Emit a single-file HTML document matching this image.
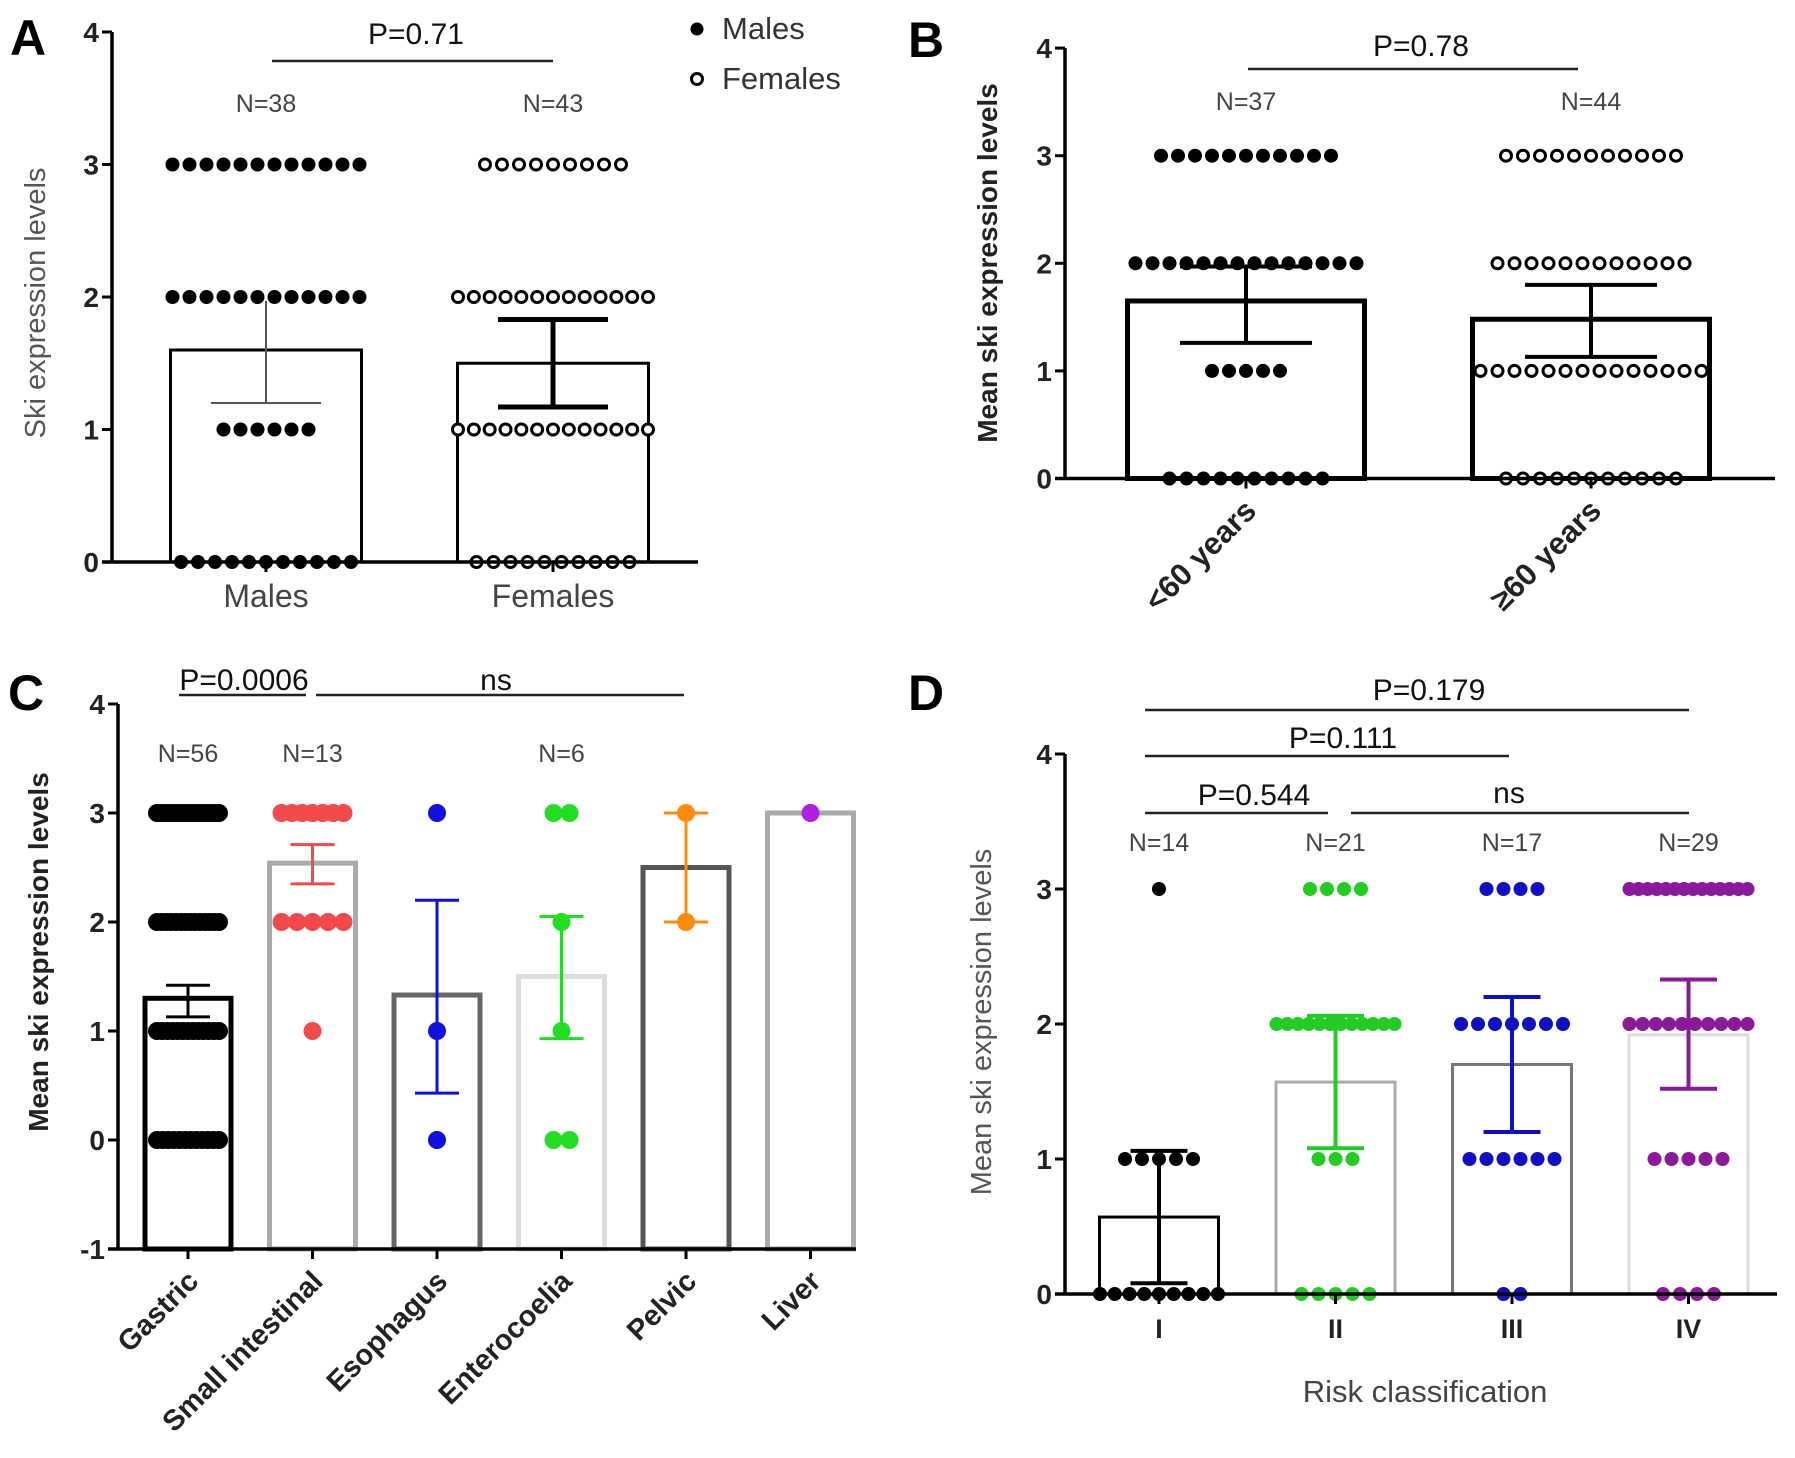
<!DOCTYPE html>
<html><head><meta charset="utf-8"><style>
html,body{margin:0;padding:0;background:#fff}
svg text{font-family:"Liberation Sans",sans-serif}
</style></head><body>
<svg id="fig" width="1795" height="1453" viewBox="0 0 1795 1453" xmlns="http://www.w3.org/2000/svg">
<rect width="1795" height="1453" fill="#fff"/>
</svg>
<script>
// Panel A data
const catsA=["Males","Females"];
const meansA=[1.6,1.5];
const errHiA=[1.97,1.83];
const errLoA=[1.2,1.17];
const dotsA=[[11,6,12,12],[10,13,13,9]];
const nA=["N=38","N=43"];
// Panel B data
const catsB=["<60 years","≥60 years"];
const meansB=[1.65,1.48];
const errHiB=[1.97,1.8];
const errLoB=[1.26,1.13];
const dotsB=[[10,5,14,11],[11,14,12,11]];
const nB=["N=37","N=44"];
// Panel C data
const catsC=["Gastric","Small intestinal","Esophagus","Enterocoelia","Pelvic","Liver"];
const meansC=[1.3,2.54,1.33,1.5,2.5,3.0];
const errHiC=[1.42,2.71,2.2,2.05,3.0,3.0];
const errLoC=[1.13,2.35,0.43,0.93,2.0,3.0];
const dotsC=[[12,13,14,17],[0,1,5,7],[1,1,0,1],[2,1,1,2],[0,0,1,1],[0,0,0,1]];
const nC=["N=56","N=13","","N=6","",""];
// Panel D data
const catsD=["I","II","III","IV"];
const meansD=[0.57,1.57,1.7,1.92];
const errHiD=[1.06,2.06,2.2,2.33];
const errLoD=[0.08,1.08,1.2,1.52];
const dotsD=[[9,5,0,1],[5,3,12,4],[2,6,7,4],[4,5,10,14]];
const nD=["N=14","N=21","N=17","N=29"];
const ticksAB=[0,1,2,3,4];
const ticksC=[-1,0,1,2,3,4];

const svg=document.getElementById('fig');
const NS="http://www.w3.org/2000/svg";
function mk(tag,attrs,parent){const e=document.createElementNS(NS,tag);for(const k in attrs)e.setAttribute(k,attrs[k]);(parent||svg).appendChild(e);return e;}
function txt(s,attrs,parent){const e=mk('text',attrs,parent);e.textContent=s;return e;}

function panel(p){
  const g=mk('g',{});
  
  
  const Y=v=>p.y0-(v)*p.unit;
  const X=i=>p.ax+p.first+i*p.step;
  const yBase=Y(p.ymin);
  p.means.forEach((m,i)=>{
    const r=mk('rect',{x:X(i)-p.barW/2,y:Y(m),width:p.barW,height:yBase-Y(m),fill:'none',stroke:p.barColors[i],'stroke-width':p.barSW},g);
    
    
  });
  p.dots.forEach((arr,i)=>{
    arr.forEach((n,lvl)=>{
      if(!n)return;
      const span=Math.min((n-1)*p.sp,p.maxSpan);
      const stp=n>1?span/(n-1):0;
      for(let k=0;k<n;k++){
        const c=mk('circle',{cx:X(i)-span/2+k*stp,cy:Y(lvl),r:p.open&&p.open[i]?p.r-1.5:p.r,
          fill:p.open&&p.open[i]?'#fff':p.dotColors[i],stroke:p.dotColors[i],'stroke-width':p.open&&p.open[i]?3:0},g);
        
        
      }
    });
  });
  p.means.forEach((m,i)=>{
    if(p.errHi[i]===p.errLo[i])return;
    const col=p.errColors[i],w=p.errSW[i],cw=p.capW;
    const e=mk('g',{stroke:col,'stroke-width':w},g);
    
    
    mk('line',{x1:X(i),x2:X(i),y1:Y(p.errHi[i]),y2:Y(p.errLo[i])},e);
    if(!p.noTopCap||!p.noTopCap[i]) mk('line',{x1:X(i)-cw/2,x2:X(i)+cw/2,y1:Y(p.errHi[i]),y2:Y(p.errHi[i])},e);
    mk('line',{x1:X(i)-cw/2,x2:X(i)+cw/2,y1:Y(p.errLo[i]),y2:Y(p.errLo[i])},e);
  });
  const ya=mk('line',{x1:p.ax,x2:p.ax,y1:Y(p.ymax),y2:yBase+1.5,stroke:'#000','stroke-width':3.5},g);
  
  const xa=mk('line',{x1:p.ax-10,x2:p.xEnd,y1:yBase,y2:yBase,stroke:'#000','stroke-width':3.5},g);
  
  p.ticks.forEach(t=>{
    mk('line',{x1:p.ax-10,x2:p.ax,y1:Y(t),y2:Y(t),stroke:'#000','stroke-width':3},g);
    const tl=txt(String(t),{x:p.ax-13,y:Y(t)+10,'text-anchor':'end','font-size':28,'font-weight':'bold',fill:'#222'},g);
    
  });
  p.cats.forEach((c,i)=>{
    mk('line',{x1:X(i),x2:X(i),y1:yBase,y2:yBase+10,stroke:'#000','stroke-width':3},g);
    let t;
    if(p.rot){
      const tx=X(i)+12,ty=yBase+34;
      t=txt(c,{x:tx,y:ty,'text-anchor':'end','font-size':p.xfs,'font-weight':'bold',fill:'#222',transform:`rotate(-45 ${tx} ${ty})`},g);
    }else{
      t=txt(c,{x:X(i),y:yBase+p.xdy,'text-anchor':'middle','font-size':p.xfs,'font-weight':p.xbold?'bold':'normal',fill:p.xbold?'#222':'#444'},g);
    }
    
  });
  p.nl.forEach((s,i)=>{
    if(!s)return;
    const t=txt(s,{x:X(i),y:p.nY,'text-anchor':'middle','font-size':25,fill:'#444'},g);
    
  });
  const yt=txt(p.ytitle,{x:p.ytx,y:p.yty,'text-anchor':'middle','font-size':p.ytBold?28:29,'font-weight':p.ytBold?'bold':'normal',fill:p.ytBold?'#222':'#555',transform:`rotate(-90 ${p.ytx} ${p.yty})`},g);
  
  const L=txt(p.letter,{x:p.lx,y:p.ly,'font-size':50,'font-weight':'bold',fill:'#000'},g);
  
  return g;
}
function sig(label,x1,x2,y,tx,ty,size){
  const l=mk('line',{x1:x1,x2:x2,y1:y,y2:y,stroke:'#222','stroke-width':2.5});
  
  const t=txt(label,{x:tx,y:ty,'text-anchor':'middle','font-size':size||30,fill:'#111'});
  
}

panel({name:'panel-a',letter:'A',lx:10,ly:55,ax:112,y0:562,unit:132.5,ymin:0,ymax:4,xEnd:698,first:154,step:287,barW:191,
  cats:catsA,means:meansA,errHi:errHiA,errLo:errLoA,dots:dotsA,nl:nA,ticks:ticksAB,
  barColors:['#000','#000'],barSW:3,errColors:['#555','#000'],errSW:[2,5],capW:110,noTopCap:[true,false],
  dotColors:['#000','#000'],open:[false,true],r:7,sp:17,maxSpan:190,
  xfs:32,xdy:45,xbold:false,nY:112,ytitle:'Ski expression levels',ytx:45,yty:303,ytBold:false});
sig('P=0.71',272,553,61,416,44,30);
const lg=mk('g',{});
mk('circle',{cx:697,cy:29,r:6.5,fill:'#000'},lg);
txt('Males',{x:722,y:39,'font-size':31,fill:'#333'},lg);
mk('circle',{cx:697,cy:79,r:5.5,fill:'#fff',stroke:'#000','stroke-width':3},lg);
txt('Females',{x:722,y:89,'font-size':31,fill:'#333'},lg);

panel({name:'panel-b',letter:'B',lx:908,ly:57,ax:1065,y0:478.5,unit:107.6,ymin:0,ymax:4,xEnd:1775,first:181,step:345,barW:237,
  cats:catsB,means:meansB,errHi:errHiB,errLo:errLoB,dots:dotsB,nl:nB,ticks:ticksAB,
  barColors:['#000','#000'],barSW:5,errColors:['#000','#000'],errSW:[4,4],capW:132,
  dotColors:['#000','#000'],open:[false,true],r:7,sp:17,maxSpan:225,
  rot:true,xfs:31,nY:110,ytitle:'Mean ski expression levels',ytx:997,yty:263,ytBold:true});
sig('P=0.78',1248,1578,69,1421,56,30);

panel({name:'panel-c',letter:'C',lx:8,ly:710,ax:118,y0:1140,unit:109,ymin:-1,ymax:4,xEnd:856,first:70,step:124.5,barW:86,
  cats:catsC,means:meansC,errHi:errHiC,errLo:errLoC,dots:dotsC,nl:nC,ticks:ticksC,
  barColors:['#000','#aaa','#666','#ddd','#555','#aaa'],barSW:5,errColors:['#000','#f24a4a','#1010e0','#22dd22','#ff8a10','#a020e0'],errSW:[3,3,3,3,3,3],capW:44,
  dotColors:['#000','#f24a4a','#1010e0','#22dd22','#ff8a10','#b020e0'],r:9,sp:16,maxSpan:62,
  rot:true,xfs:29,nY:762,ytitle:'Mean ski expression levels',ytx:48,yty:952,ytBold:true});
sig('P=0.0006',179,306,695,244,690,30);
sig('ns',316,684,695,496,690,30);

panel({name:'panel-d',letter:'D',lx:908,ly:710,ax:1065,y0:1294,unit:135,ymin:0,ymax:4,xEnd:1777,first:94,step:176.5,barW:119,
  cats:catsD,means:meansD,errHi:errHiD,errLo:errLoD,dots:dotsD,nl:nD,ticks:ticksAB,
  barColors:['#000','#aaa','#777','#ddd'],barSW:3,errColors:['#000','#22cc22','#1010c0','#8a1a9a'],errSW:[4,4,4,4],capW:57,
  dotColors:['#000','#22cc22','#1010c0','#8a1a9a'],r:7,sp:17,maxSpan:118,
  xfs:27,xdy:44,xbold:true,nY:851,ytitle:'Mean ski expression levels',ytx:991,yty:1022,ytBold:false});
sig('P=0.179',1145,1689,710,1429,700,30);
sig('P=0.111',1145,1509,756,1343,748,30);
sig('P=0.544',1145,1328,813,1254,805,30);
sig('ns',1351,1689,813,1509,803,30);
const rc=txt('Risk classification',{x:1425,y:1402,'text-anchor':'middle','font-size':31,fill:'#444'});

</script>
</body></html>
